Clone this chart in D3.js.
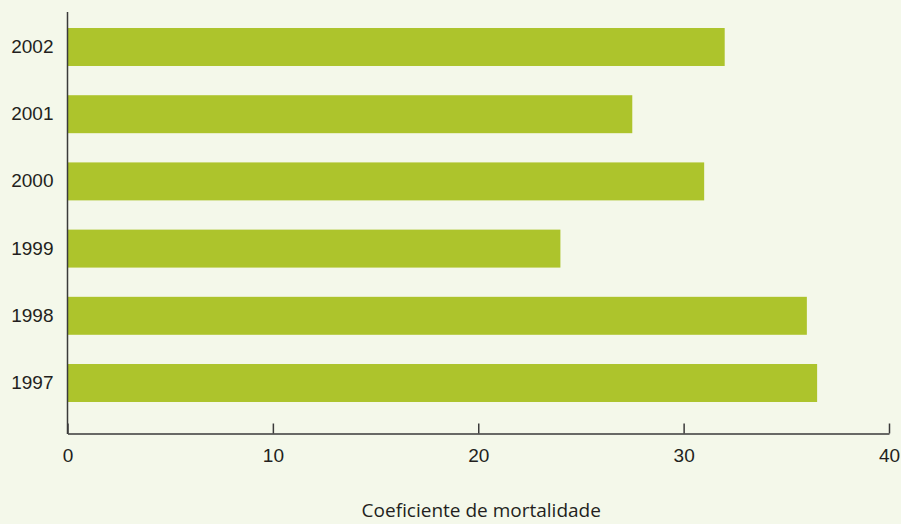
<!DOCTYPE html>
<html>
<head>
<meta charset="utf-8">
<style>
  body { margin: 0; background: #f4f8ea; }
  svg { display: block; font-family: "Open Sans", "Noto Sans", sans-serif; }
</style>
</head>
<body>
<svg width="901" height="524"></svg>
<script src="https://d3js.org/d3.v7.min.js"></script>
<script>
    // data
    var years = ["2002", "2001", "2000", "1999", "1998", "1997"];
    var values = [32.0, 27.5, 31.0, 24.0, 36.0, 36.5];
    var xTicks = [0, 10, 20, 30, 40];
    var xTitle = "Coeficiente de mortalidade";

    var svg = d3.select("svg");

    var x = d3.scaleLinear().domain([0, 40]).range([67.5, 889]);
    var y = d3.scaleBand().domain(years).range([13.4, 416.6])
        .paddingInner(0.435).paddingOuter(0.2175);

    var textColor = "#231f20";

    // bars
    svg.selectAll(".bar")
        .data(years)
        .enter().append("rect")
        .attr("class", "bar")
        .attr("x", x(0))
        .attr("y", function(d) { return y(d); })
        .attr("width", function(d, i) { return x(values[i]) - x(0); })
        .attr("height", y.bandwidth())
        .attr("fill", "#adc42c");

    // x axis, ticks pointing up into the plot
    var xAxis = svg.append("g")
        .attr("transform", "translate(0,433.5)")
        .call(d3.axisBottom(x).tickValues(xTicks).tickSizeInner(-10).tickSizeOuter(0).tickPadding(15));
    xAxis.select(".domain").attr("stroke", "#3a3a3a").attr("stroke-width", 1.5);
    xAxis.selectAll(".tick line").attr("stroke", "#3a3a3a").attr("stroke-width", 1.5);
    xAxis.selectAll(".tick text")
        .attr("fill", textColor)
        .style("font-size", "19px");

    // y axis: plain line, labels only
    var yAxis = svg.append("g")
        .attr("transform", "translate(67.5,0)")
        .call(d3.axisLeft(y).tickSize(0).tickPadding(14));
    yAxis.select(".domain").remove();
    yAxis.append("line")
        .attr("x1", 0).attr("x2", 0)
        .attr("y1", 12).attr("y2", 434)
        .attr("stroke", "#3a3a3a").attr("stroke-width", 1.5);
    yAxis.selectAll(".tick text")
        .attr("fill", textColor)
        .style("font-size", "19px");

    // axis title
    svg.append("text")
        .attr("x", (x(0) + x(40)) / 2 + 3)
        .attr("y", 517)
        .attr("text-anchor", "middle")
        .attr("fill", textColor)
        .style("font-size", "19px")
        .text(xTitle);
</script>
</body>
</html>
